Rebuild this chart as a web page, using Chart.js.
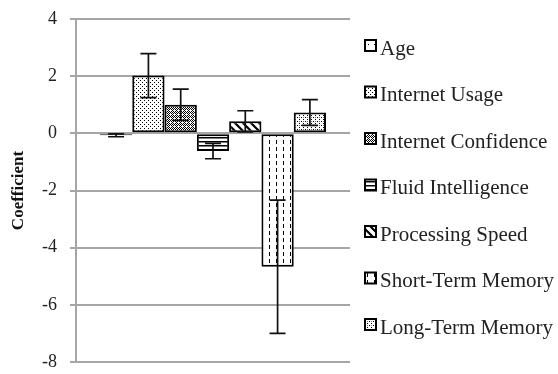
<!DOCTYPE html>
<html>
<head>
<meta charset="utf-8">
<script src="https://cdn.jsdelivr.net/npm/chart.js@4.4.1/dist/chart.umd.min.js"></script>
<style>
  html, body { margin: 0; padding: 0; background: #fff; }
  #wrap { width: 558px; height: 374px; position: relative; }
</style>
</head>
<body>
<div id="wrap"><canvas id="coefChart"></canvas></div>
<script>
// Regression coefficients with error bars
const seriesNames = ["Age", "Internet Usage", "Internet Confidence", "Fluid Intelligence",
  "Processing Speed", "Short-Term Memory", "Long-Term Memory"];
const coefValues = [-0.07, 2.02, 1.0, -0.62, 0.42, -4.67, 0.73];
const errValues = [0.05, 0.77, 0.55, 0.27, 0.37, 2.33, 0.45];
const yTicks = [4, 2, 0, -2, -4, -6, -8];

// little tiles used as bar fills
function makePattern(size, draw) {
  const c = document.createElement("canvas");
  c.width = size;
  c.height = size;
  const g = c.getContext("2d");
  g.fillStyle = "#fff";
  g.fillRect(0, 0, size, size);
  g.fillStyle = "#000";
  g.strokeStyle = "#000";
  draw(g, size);
  return g.createPattern(c, "repeat");
}

const fills = [
  // Age: sparse dots
  makePattern(6, (g) => { g.fillRect(2, 2, 1, 1); }),
  // Internet Usage: dense dots
  makePattern(4, (g) => { g.fillRect(0, 0, 1, 1); g.fillRect(2, 2, 1, 1); }),
  // Internet Confidence: dark checker dots
  makePattern(4, (g) => {
    g.fillRect(0, 0, 1, 1); g.fillRect(2, 0, 1, 1);
    g.fillRect(1, 1, 1, 1); g.fillRect(3, 1, 1, 1);
    g.fillRect(0, 2, 1, 1); g.fillRect(1, 3, 1, 1); g.fillRect(3, 3, 1, 1);
  }),
  // Fluid Intelligence: horizontal lines
  makePattern(4, (g) => { g.fillRect(0, 1, 4, 1.5); }),
  // Processing Speed: wide diagonal stripes
  makePattern(8, (g) => {
    g.lineWidth = 2.2;
    g.beginPath();
    g.moveTo(-2, -2); g.lineTo(10, 10);
    g.moveTo(-6, 2); g.lineTo(2, 10);
    g.moveTo(6, -2); g.lineTo(10, 2);
    g.stroke();
  }),
  // Short-Term Memory: vertical dashes
  makePattern(7, (g) => { g.fillRect(3, 0, 1, 4); }),
  // Long-Term Memory: dots
  makePattern(4, (g) => { g.fillRect(1, 1, 1, 1); g.fillRect(3, 3, 1, 1); g.fillStyle = "#777"; g.fillRect(3, 1, 1, 1); })
];

const errorBarPlugin = {
  id: "errorBars",
  afterDatasetsDraw(chart) {
    const ctx = chart.ctx;
    const yScale = chart.scales.y;
    ctx.save();
    ctx.strokeStyle = "#111";
    ctx.lineWidth = 1.7;
    chart.data.datasets.forEach((ds, i) => {
      const meta = chart.getDatasetMeta(i);
      meta.data.forEach((bar, j) => {
        const v = ds.data[j];
        const e = ds.errors[j];
        const yTop = yScale.getPixelForValue(v + e);
        const yBot = yScale.getPixelForValue(v - e);
        const half = 8;
        ctx.beginPath();
        ctx.moveTo(bar.x, yTop); ctx.lineTo(bar.x, yBot);
        ctx.moveTo(bar.x - half, yTop); ctx.lineTo(bar.x + half, yTop);
        ctx.moveTo(bar.x - half, yBot); ctx.lineTo(bar.x + half, yBot);
        ctx.stroke();
      });
    });
    ctx.restore();
  }
};

// legend drawn by hand in the space to the right of the plot
const sideLegendPlugin = {
  id: "sideLegend",
  afterDraw(chart) {
    const ctx = chart.ctx;
    const area = chart.chartArea;
    const step = 46.5;
    const n = chart.data.datasets.length;
    const firstCenter = chart.height / 2 - step * (n - 1) / 2 - 2;
    const boxX = area.right + 15;
    ctx.save();
    ctx.font = "21px 'Liberation Serif'";
    ctx.textAlign = "left";
    ctx.textBaseline = "alphabetic";
    chart.data.datasets.forEach((ds, i) => {
      const cy = firstCenter + i * step;
      ctx.fillStyle = ds.backgroundColor;
      ctx.fillRect(boxX, cy - 5.5, 11, 11);
      ctx.strokeStyle = "#000";
      ctx.lineWidth = 2;
      ctx.strokeRect(boxX, cy - 5.5, 11, 11);
      ctx.fillStyle = "#222";
      ctx.fillText(ds.label, boxX + 15, cy + 9);
    });
    ctx.restore();
  }
};

const datasets = seriesNames.map((name, i) => ({
  label: name,
  data: [coefValues[i]],
  errors: [errValues[i]],
  backgroundColor: fills[i],
  borderColor: "#000",
  borderWidth: 2,
  borderSkipped: false,
  barPercentage: 1.0,
  categoryPercentage: 0.825
}));

const ctx = document.getElementById("coefChart").getContext("2d");
new Chart(ctx, {
  type: "bar",
  data: {
    labels: [""],
    datasets: datasets
  },
  options: {
    responsive: true,
    maintainAspectRatio: false,
    animation: false,
    layout: {
      padding: { top: 19, bottom: 12, left: 4, right: 208 }
    },
    scales: {
      x: {
        display: false
      },
      y: {
        min: -8,
        max: 4,
        afterBuildTicks: (axis) => {
          axis.ticks = yTicks.map((v) => ({ value: v }));
        },
        afterFit: (axis) => {
          axis.width = 72;
          axis.paddingTop = 0;
          axis.paddingBottom = 0;
        },
        grid: {
          color: "#a6a6a6",
          lineWidth: 2,
          tickLength: 6
        },
        border: {
          color: "#a6a6a6",
          width: 2
        },
        ticks: {
          color: "#222",
          padding: 13,
          font: { family: "Liberation Serif", size: 18 }
        },
        title: {
          display: true,
          text: "Coefficient",
          color: "#111",
          font: { family: "Liberation Serif", size: 17, weight: "bold" },
          padding: { top: 4, bottom: 4 }
        }
      }
    },
    plugins: {
      tooltip: { enabled: false },
      legend: { display: false }
    }
  },
  plugins: [errorBarPlugin, sideLegendPlugin]
});
</script>
</body>
</html>
